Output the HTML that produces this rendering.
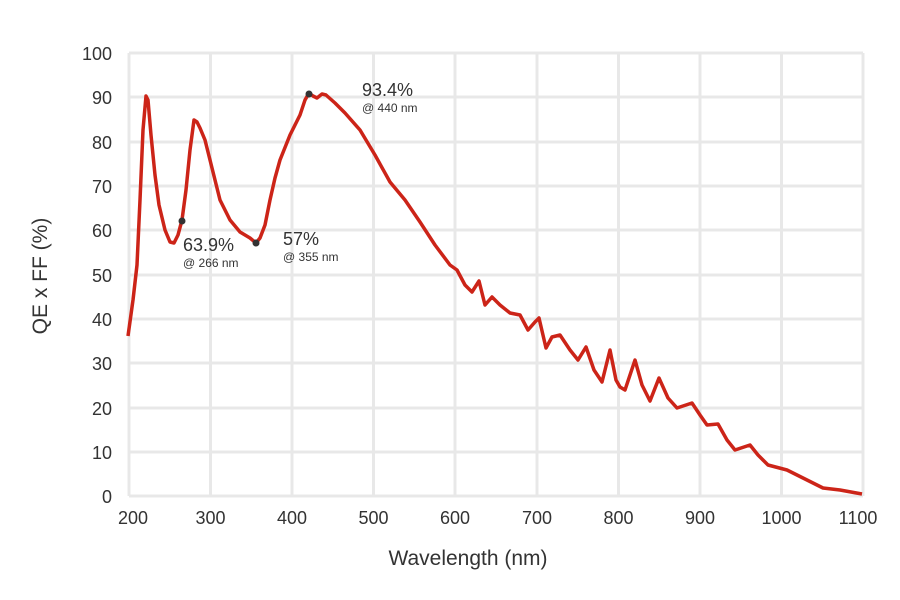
<!DOCTYPE html>
<html><head><meta charset="utf-8"><style>body{margin:0;background:#fff}svg{display:block}text{font-family:"Liberation Sans",sans-serif;fill:#333}</style></head><body>
<svg width="900" height="600" viewBox="0 0 900 600">
<g stroke="#e8e8e8" stroke-width="3">
<line x1="129" y1="53" x2="863" y2="53"/><line x1="129" y1="97" x2="863" y2="97"/><line x1="129" y1="142" x2="863" y2="142"/><line x1="129" y1="186" x2="863" y2="186"/><line x1="129" y1="230" x2="863" y2="230"/><line x1="129" y1="275" x2="863" y2="275"/><line x1="129" y1="319" x2="863" y2="319"/><line x1="129" y1="363" x2="863" y2="363"/><line x1="129" y1="408" x2="863" y2="408"/><line x1="129" y1="452" x2="863" y2="452"/><line x1="129" y1="496" x2="863" y2="496"/>
<line x1="129" y1="53" x2="129" y2="496"/><line x1="210.5" y1="53" x2="210.5" y2="496"/><line x1="292" y1="53" x2="292" y2="496"/><line x1="373.5" y1="53" x2="373.5" y2="496"/><line x1="455" y1="53" x2="455" y2="496"/><line x1="537" y1="53" x2="537" y2="496"/><line x1="618.5" y1="53" x2="618.5" y2="496"/><line x1="700" y1="53" x2="700" y2="496"/><line x1="781.5" y1="53" x2="781.5" y2="496"/><line x1="863" y1="53" x2="863" y2="496"/>
</g>
<g font-size="18" text-anchor="end">
<text x="112" y="60">100</text><text x="112" y="104">90</text><text x="112" y="149">80</text><text x="112" y="193">70</text><text x="112" y="237">60</text><text x="112" y="282">50</text><text x="112" y="326">40</text><text x="112" y="370">30</text><text x="112" y="415">20</text><text x="112" y="459">10</text><text x="112" y="503">0</text>
</g>
<g font-size="18" text-anchor="middle">
<text x="133" y="524">200</text><text x="210.5" y="524">300</text><text x="292" y="524">400</text><text x="373.5" y="524">500</text><text x="455" y="524">600</text><text x="537" y="524">700</text><text x="618.5" y="524">800</text><text x="700" y="524">900</text><text x="781.5" y="524">1000</text><text x="858" y="524">1100</text>
</g>
<text x="468" y="565" font-size="21" text-anchor="middle">Wavelength (nm)</text>
<text transform="translate(47,276) rotate(-90)" font-size="21" text-anchor="middle">QE x FF (%)</text>
<path fill="none" stroke="#cc2418" stroke-width="3.5" stroke-linejoin="round" d="M128,336 L133,300 L137,265 L140,200 L143,130 L146,96 L148,100 L151,135 L155,175 L159,205 L165,230 L170,242 L174,243 L178,235 L182,220 L186,190 L190,150 L194,120 L197,122 L200,128 L205,140 L210,160 L215,180 L220,200 L230,220 L240,232 L250,238 L256,243 L260,238 L265,225 L270,200 L275,178 L280,160 L290,135 L300,115 L305,100 L309,93 L313,96 L317,98 L322,94 L326,95 L335,103 L345,113 L360,130 L375,155 L390,182 L405,200 L420,222 L435,245 L450,265 L457,270 L465,285 L472,292 L479,281 L485,305 L492,297 L500,305 L510,313 L520,315 L528,330 L535,322 L539,318 L546,348 L552,337 L560,335 L570,350 L578,360 L586,347 L594,370 L602,382 L610,350 L616,380 L620,387 L625,390 L635,360 L642,385 L650,401 L659,378 L668,398 L677,408 L692,403 L700,415 L707,425 L718,424 L727,440 L735,450 L750,445 L758,455 L768,465 L787,470 L807,480 L823,488 L840,490 L862,494"/>
<g fill="#333"><circle cx="182" cy="221" r="3.5"/><circle cx="256" cy="243" r="3.5"/><circle cx="309" cy="94" r="3.5"/></g>
<text x="183" y="251" font-size="18">63.9%</text><text x="183" y="267" font-size="12">@ 266 nm</text>
<text x="283" y="245" font-size="18">57%</text><text x="283" y="261" font-size="12">@ 355 nm</text>
<text x="362" y="96" font-size="18">93.4%</text><text x="362" y="112" font-size="12">@ 440 nm</text>
</svg>
</body></html>
